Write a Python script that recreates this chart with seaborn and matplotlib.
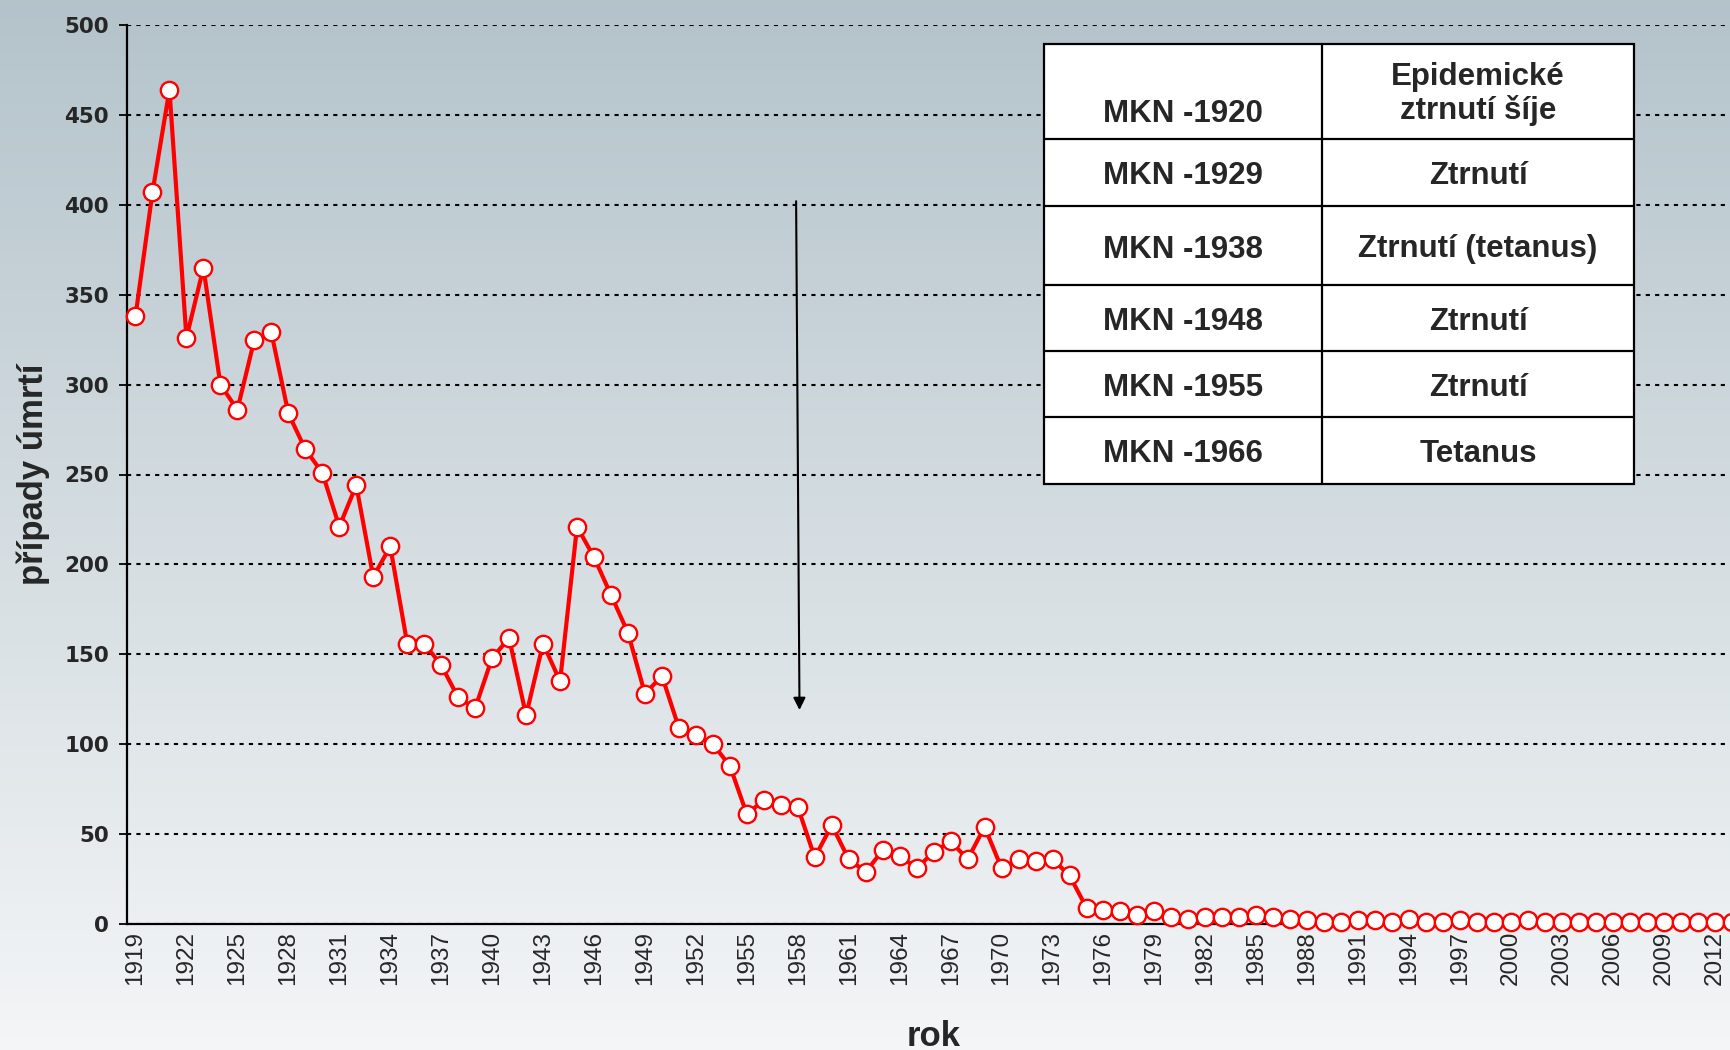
import numpy as np
import pandas as pd
import matplotlib.pyplot as plt
import seaborn as sns
from matplotlib.patches import Rectangle
from matplotlib.lines import Line2D

# data
years = list(range(1919, 2014))
deaths = [338, 407, 464, 326, 365, 300, 286, 325, 329, 284,
          264, 251, 221, 244, 193, 210, 156, 156, 144, 126,
          120, 148, 159, 116, 156, 135, 221, 204, 183, 162,
          128, 138, 109, 105, 100, 88, 61, 69, 66, 65,
          37, 55, 36, 29, 41, 38, 31, 40, 46, 36,
          54, 31, 36, 35, 36, 27, 9, 8, 7, 5,
          7, 4, 3, 4, 4, 4, 5, 4, 3, 2,
          1, 1, 2, 2, 1, 3, 1, 1, 2, 1,
          1, 1, 2, 1, 1, 1, 1, 1, 1, 1,
          1, 1, 1, 1, 1]
label_years = list(range(1919, 2013, 3))
y_ticks = list(range(0, 501, 50))

table_codes = ['MKN -1920', 'MKN -1929', 'MKN -1938', 'MKN -1948', 'MKN -1955', 'MKN -1966']
table_names = ['Epidemické\nztrnutí šíje', 'Ztrnutí', 'Ztrnutí (tetanus)', 'Ztrnutí', 'Ztrnutí', 'Tetanus']

df = pd.DataFrame({'rok': years, 'umrti': deaths})

sns.set_style('white')
plt.rcParams['font.family'] = ['Liberation Sans', 'DejaVu Sans']

W, H = 1731, 1050
fig = plt.figure(figsize=(W / 100, H / 100), dpi=100)

# gradient background over the whole figure
bg = fig.add_axes([0, 0, 1, 1], zorder=-10)
top = np.array([0.705, 0.765, 0.795])
bot = np.array([0.955, 0.963, 0.968])
t = np.linspace(0, 1, 256)[:, None]
grad = (top * (1 - t) + bot * t)[:, None, :]
bg.imshow(grad, aspect='auto', extent=[0, 1, 0, 1])
bg.axis('off')

ax = fig.add_axes([127 / W, 1 - 924 / H, 1 - 127 / W, (924 - 25) / H])
ax.set_facecolor('none')

sns.lineplot(data=df, x='rok', y='umrti', ax=ax, color='red', lw=3.0,
             marker='o', markersize=12.5, markerfacecolor='white',
             markeredgecolor='red', markeredgewidth=1.7, clip_on=False, zorder=5)

ax.set_xlim(1918.5, 2012.95)
ax.set_ylim(0, 500)

ax.set_yticks(y_ticks)
ax.set_yticklabels([str(v) for v in y_ticks], fontfamily='DejaVu Sans',
                   fontweight='bold', fontsize=15.5)
ax.yaxis.grid(True, color='black', linestyle=(0, (2, 2.5)), lw=1.5)
ax.xaxis.grid(False)
ax.set_axisbelow(True)

ax.set_xticks(label_years)
ax.set_xticklabels([str(y) for y in label_years], rotation=90, fontsize=17.5)
ax.set_xticks([y - 0.5 for y in label_years], minor=True)
ax.tick_params(axis='x', which='major', length=0, pad=5)
ax.tick_params(axis='x', which='minor', length=6, width=1.3, color='black', direction='out')
ax.tick_params(axis='y', length=6, width=1.3, color='black', direction='out', pad=7, left=True)

for s in ['top', 'right']:
    ax.spines[s].set_visible(False)
for s in ['left', 'bottom']:
    ax.spines[s].set_color('black')
    ax.spines[s].set_linewidth(1.6)

ax.set_xlabel('')
ax.set_ylabel('')
fig.text(33 / W, 1 - 474 / H, 'případy úmrtí', rotation=90, fontsize=25,
         fontweight='bold', ha='center', va='center')
fig.text(934 / W, 1 - 1036 / H, 'rok', fontsize=25, fontweight='bold',
         ha='center', va='center')

# arrow marking the 1958 change
ax.annotate('', xy=(1958.1, 119), xytext=(1957.9, 402),
            arrowprops=dict(arrowstyle='-|>', color='black', lw=1.5,
                            mutation_scale=18, shrinkA=0, shrinkB=0))

# classification table (pixel layout)
cols = [1044, 1322, 1634]
rows = [44, 139, 206, 285, 351, 417, 484]


def fx(x):
    return x / W


def fy(y):
    return 1 - y / H


fig.add_artist(Rectangle((fx(cols[0]), fy(rows[-1])), fx(cols[2]) - fx(cols[0]),
                         fy(rows[0]) - fy(rows[-1]), transform=fig.transFigure,
                         facecolor='white', edgecolor='black', lw=1.6, zorder=10))
fig.add_artist(Line2D([fx(cols[1])] * 2, [fy(rows[0]), fy(rows[-1])],
                      transform=fig.transFigure, color='black', lw=1.6, zorder=11))
for r in rows[1:-1]:
    fig.add_artist(Line2D([fx(cols[0]), fx(cols[2])], [fy(r)] * 2,
                          transform=fig.transFigure, color='black', lw=1.6, zorder=11))

for i, (code, name) in enumerate(zip(table_codes, table_names)):
    yc = (rows[i] + rows[i + 1]) / 2 + 4
    if i == 0:
        fig.text(fx((cols[0] + cols[1]) / 2), fy(114), code, fontsize=22.5, fontweight='bold',
                 ha='center', va='center', zorder=12)
        fig.text(fx((cols[1] + cols[2]) / 2), fy(94), name, fontsize=22.5, fontweight='bold',
                 ha='center', va='center', linespacing=1.15, zorder=12)
    else:
        fig.text(fx((cols[0] + cols[1]) / 2), fy(yc), code, fontsize=22.5, fontweight='bold',
                 ha='center', va='center', zorder=12)
        fig.text(fx((cols[1] + cols[2]) / 2), fy(yc), name, fontsize=22.5, fontweight='bold',
                 ha='center', va='center', zorder=12)

fig.savefig('out.png', dpi=100)
